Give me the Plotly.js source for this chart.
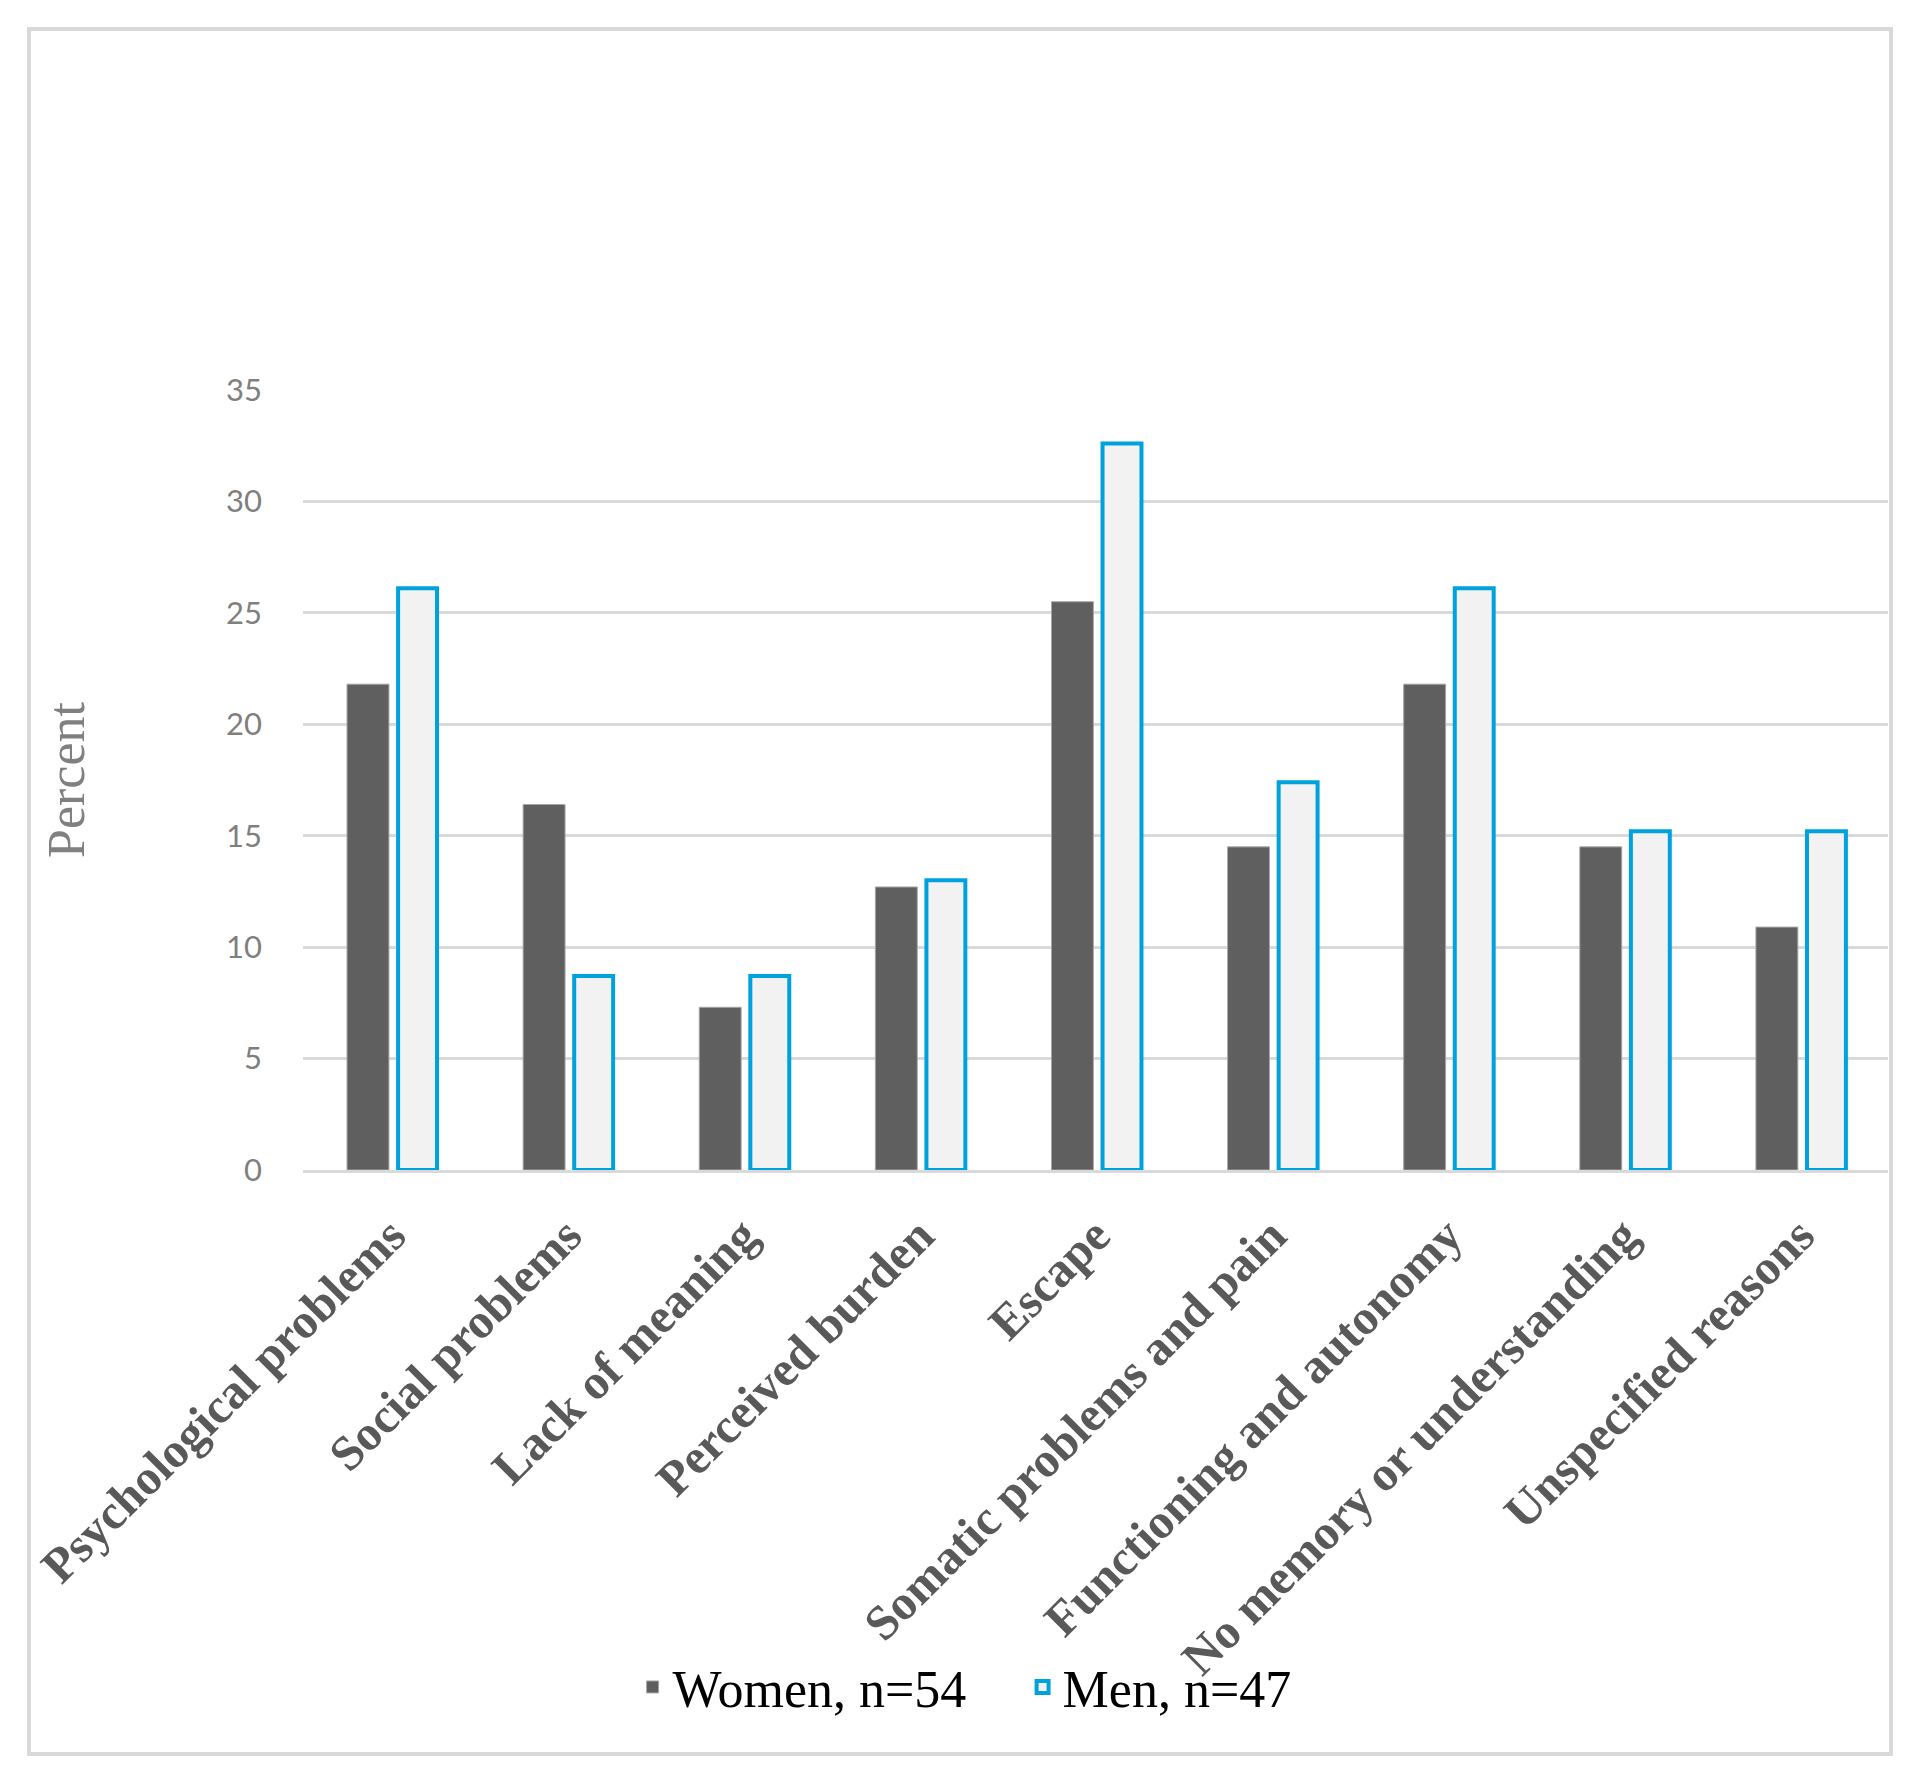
<!DOCTYPE html>
<html>
<head>
<meta charset="utf-8">
<script src="https://cdn.plot.ly/plotly-3.0.1.min.js"></script>
<style>
  html, body { margin: 0; padding: 0; background: #ffffff; }
  #wrap { position: relative; width: 1917px; height: 1786px; }
  #chart { position: absolute; left: 0; top: 0; width: 1917px; height: 1786px; }
  #frame {
    position: absolute; left: 27px; top: 27px; width: 1858px; height: 1721px;
    border: 4.5px solid #d9d9d9; pointer-events: none;
  }
</style>
</head>
<body>
<div id="wrap">
  <div id="chart"></div>
  <div id="frame"></div>
</div>
<script>
const categories = [
    'Psychological problems',
    'Social problems',
    'Lack of meaning',
    'Perceived burden',
    'Escape',
    'Somatic problems and pain',
    'Functioning and autonomy',
    'No memory or understanding',
    'Unspecified reasons'
];

// percent of respondents
const women = [21.8, 16.4, 7.3, 12.7, 25.5, 14.5, 21.8, 14.5, 10.9];
const men = [26.1, 8.7, 8.7, 13.0, 32.6, 17.4, 26.1, 15.2, 15.2];

const yTicks = [0, 5, 10, 15, 20, 25, 30, 35];

const womenTrace = {
    type: 'bar',
    name: 'Women, n=54',
    x: categories,
    y: women,
    width: 0.238,
    offset: -0.25,
    marker: { color: '#5f5f5f', line: { color: '#a6a6a6', width: 1 } },
    hoverinfo: 'skip'
};

const menTrace = {
    type: 'bar',
    name: 'Men, n=47',
    x: categories,
    y: men,
    width: 0.221,
    offset: 0.04,
    marker: { color: '#f2f2f2', line: { color: '#00a2de', width: 4 } },
    hoverinfo: 'skip'
};

const layout = {
    width: 1917,
    height: 1786,
    paper_bgcolor: '#ffffff',
    plot_bgcolor: '#ffffff',
    margin: { l: 303, r: 29, t: 390, b: 616 },
    barmode: 'group',
    showlegend: true,
    legend: {
        orientation: 'h',
        x: 0.454,
        xanchor: 'center',
        y: -0.663,
        yanchor: 'middle',
        bgcolor: 'rgba(0,0,0,0)',
        font: { family: 'Liberation Serif, serif', size: 52, color: '#000000' },
        itemwidth: 30,
        entrywidth: 345,
        traceorder: 'normal'
    },
    xaxis: {
        type: 'category',
        tickangle: -45,
        tickfont: { family: 'Liberation Serif, serif', size: 49, color: '#595959', weight: 'bold' },
        ticks: '',
        ticklabelshift: 0,
        ticklabelstandoff: 14,
        showgrid: false,
        showline: true,
        linecolor: '#d9d9d9',
        linewidth: 3,
        zeroline: false,
        automargin: false
    },
    yaxis: {
        range: [0, 35],
        tickvals: yTicks,
        ticktext: yTicks.map(String),
        tickfont: { family: 'Lato, sans-serif', size: 31, color: '#7f7f7f' },
        ticks: '',
        ticklabelstandoff: 40,
        showgrid: true,
        gridcolor: '#d9d9d9',
        gridwidth: 3,
        showline: false,
        zeroline: false,
        automargin: false,
        title: {
            text: 'Percent',
            font: { family: 'Liberation Serif, serif', size: 52, color: '#808080' },
            standoff: 124
        }
    }
};

Plotly.newPlot('chart', [womenTrace, menTrace], layout, { displayModeBar: false, staticPlot: true });
</script>
</body>
</html>
